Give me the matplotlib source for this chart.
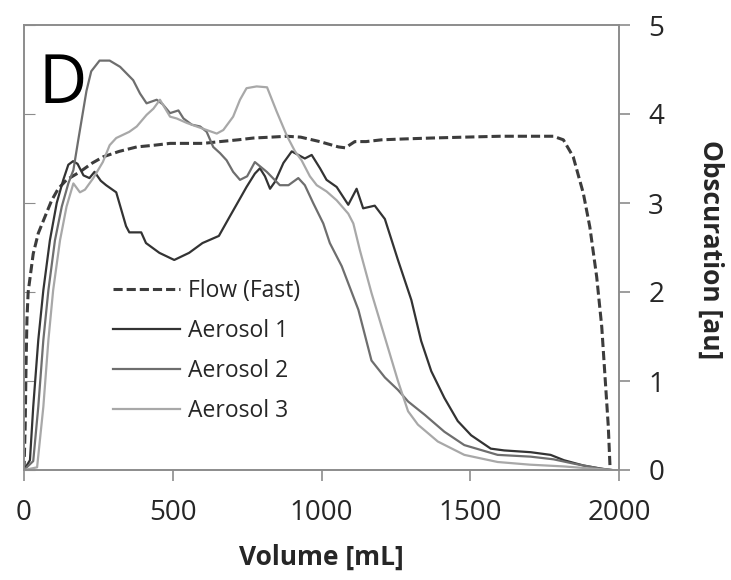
import matplotlib
matplotlib.use('Agg')
import matplotlib.pyplot as plt

plt.rcParams['font.family'] = ['Open Sans', 'DejaVu Sans']

# Flow (Fast) - dashed curve
flow_x = [0, 4, 7, 10, 14, 31, 48, 71, 93, 115, 143, 188, 230, 267, 320, 379, 440, 491, 550,
          603, 659, 720, 771, 830, 883, 930, 994, 1057, 1080, 1112, 1150, 1202, 1280, 1369, 1480,
          1600, 1700, 1779, 1813, 1846, 1880, 1902, 1925, 1942, 1953, 1964, 1970]
flow_y = [0, 0.5, 1.2, 1.7, 2.0, 2.43, 2.66, 2.85, 3.03, 3.16, 3.26, 3.35, 3.45, 3.52, 3.58, 3.63,
          3.65, 3.67, 3.67, 3.67, 3.69, 3.71, 3.73, 3.74, 3.75, 3.74, 3.69, 3.63, 3.62, 3.69, 3.69,
          3.71, 3.72, 3.73, 3.74, 3.75, 3.75, 3.75, 3.71, 3.52, 3.11, 2.73, 2.17, 1.61, 1.05, 0.49, 0.02]

# Aerosol 1
a1_x = [0, 20, 31, 48, 65, 87, 110, 132, 149, 165, 180, 200, 220, 237, 258, 276, 310, 343, 354,
        394, 410, 455, 505, 555, 600, 655, 692, 726, 748, 776, 793, 810, 827, 844, 872, 900, 922,
        944, 967, 995, 1017, 1051, 1090, 1118, 1140, 1179, 1213, 1257, 1302, 1335, 1369, 1413,
        1458, 1503, 1569, 1614, 1703, 1770, 1815, 1881, 1949, 1975]
a1_y = [0, 0.11, 0.71, 1.46, 2.02, 2.58, 3.0, 3.26, 3.43, 3.47, 3.44, 3.31, 3.28, 3.35, 3.25, 3.2,
        3.12, 2.74, 2.67, 2.67, 2.55, 2.44, 2.36, 2.44, 2.55, 2.63, 2.85, 3.05, 3.18, 3.33, 3.39,
        3.30, 3.16, 3.24, 3.45, 3.58, 3.54, 3.5, 3.54, 3.39, 3.26, 3.18, 2.98, 3.16, 2.94, 2.97,
        2.82, 2.36, 1.91, 1.45, 1.11, 0.81, 0.55, 0.39, 0.24, 0.22, 0.20, 0.17, 0.11, 0.05, 0.01, 0]

# Aerosol 2
a2_x = [0, 31, 48, 65, 82, 104, 127, 149, 166, 182, 193, 210, 226, 254, 288, 323, 367, 390, 412,
        446, 466, 491, 519, 536, 564, 592, 614, 636, 659, 681, 703, 726, 750, 776, 816, 860, 889,
        922, 944, 972, 1006, 1028, 1068, 1124, 1168, 1213, 1257, 1291, 1347, 1413, 1480, 1592,
        1703, 1780, 1850, 1930, 1975]
a2_y = [0, 0.1, 0.71, 1.46, 2.02, 2.58, 2.96, 3.22, 3.37, 3.7, 3.92, 4.26, 4.48, 4.6, 4.6, 4.53,
        4.38, 4.23, 4.12, 4.16, 4.11, 4.01, 4.04, 3.95, 3.88, 3.86, 3.8, 3.63, 3.56, 3.48, 3.35,
        3.26, 3.3, 3.46, 3.35, 3.2, 3.2, 3.28, 3.2, 3.0, 2.77, 2.55, 2.29, 1.8, 1.23, 1.04, 0.9,
        0.77, 0.62, 0.43, 0.28, 0.17, 0.15, 0.12, 0.07, 0.02, 0]

# Aerosol 3
a3_x = [0, 44, 65, 82, 98, 121, 143, 166, 188, 205, 233, 265, 288, 310, 354, 379, 412, 435, 457,
        491, 513, 547, 580, 614, 648, 670, 703, 726, 748, 782, 817, 849, 883, 911, 933, 961, 984,
        1017, 1051, 1090, 1107, 1129, 1168, 1213, 1257, 1291, 1324, 1391, 1480, 1592, 1700, 1815,
        1930, 1975]
a3_y = [0, 0.03, 0.71, 1.46, 2.02, 2.58, 2.96, 3.22, 3.12, 3.15, 3.28, 3.46, 3.65, 3.73, 3.8,
        3.86, 3.99, 4.06, 4.16, 3.97, 3.95, 3.9, 3.86, 3.82, 3.78, 3.82, 3.97, 4.16, 4.29, 4.31,
        4.3, 4.03, 3.76, 3.58, 3.48, 3.30, 3.2, 3.13, 3.03, 2.88, 2.77, 2.47, 1.99, 1.49, 1.0,
        0.66, 0.51, 0.32, 0.17, 0.09, 0.06, 0.04, 0.01, 0]

x_ticks = [0, 500, 1000, 1500, 2000]
y_ticks = [0, 1, 2, 3, 4, 5]

spine_col = '#8c8c8c'
text_col = '#262626'

fig = plt.figure(figsize=(7.31, 5.8), dpi=100)
ax = fig.add_axes([24 / 731, 110 / 580, 595 / 731, 445 / 580])

ax.plot(flow_x, flow_y, color='#3c3c3c', lw=2.2, dashes=(3, 1.3), label='Flow (Fast)')
ax.plot(a1_x, a1_y, color='#333333', lw=1.6, label='Aerosol 1')
ax.plot(a2_x, a2_y, color='#6e6e6e', lw=1.6, label='Aerosol 2')
ax.plot(a3_x, a3_y, color='#a8a8a8', lw=1.6, label='Aerosol 3')

ax.set_xlim(0, 2000)
ax.set_ylim(0, 5)
ax.set_xticks(x_ticks)
ax.set_yticks(y_ticks)
ax.tick_params(axis='y', direction='in', length=8, color=spine_col, labelleft=False)
ax.tick_params(axis='x', direction='out', length=8, width=1.2, color=spine_col,
               labelsize=20, labelcolor=text_col, pad=13)
for s in ax.spines.values():
    s.set_color(spine_col)
    s.set_linewidth(1.2)

# secondary axis on the right with the labels
ax2 = ax.twinx()
ax2.set_ylim(0, 5)
ax2.set_yticks(y_ticks)
ax2.tick_params(axis='y', direction='out', length=8, width=1.2, color=spine_col,
                labelsize=20, labelcolor=text_col, pad=13)
for s in ax2.spines.values():
    s.set_color(spine_col)
    s.set_linewidth(1.2)

ax.set_xlabel('Volume [mL]', fontsize=19, fontweight='bold', color=text_col)
ax.xaxis.set_label_coords(0.5, -0.165)
fig.text(711 / 731, 1 - 250 / 580, 'Obscuration [au]', rotation=270, fontsize=19,
         fontweight='bold', color=text_col, ha='center', va='center')

ax.text(0.025, 0.825, 'D', transform=ax.transAxes, fontsize=48, color='black',
        ha='left', va='baseline')

ax.legend(loc='upper left', bbox_to_anchor=(0.15, 0.43), frameon=False, fontsize=16.5,
          handlelength=2.9, handletextpad=0.35, labelspacing=0.7, borderpad=0,
          borderaxespad=0, labelcolor=text_col)

fig.savefig('out.png', dpi=100)
